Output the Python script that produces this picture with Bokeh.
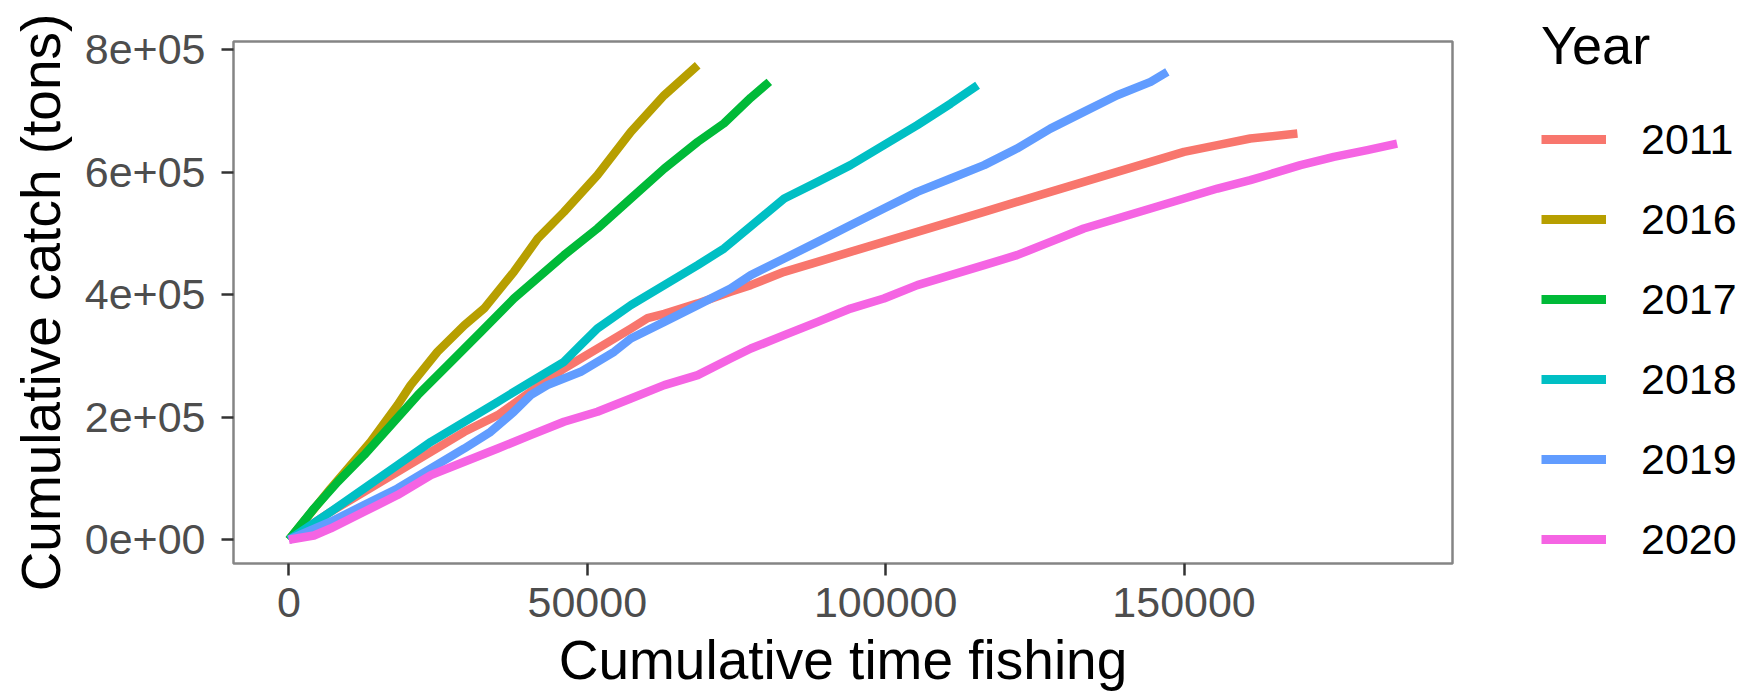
import numpy as np
from bokeh.plotting import figure
from bokeh.layouts import row
from bokeh.models import Range1d, FixedTicker, Legend, LegendItem
from bokeh.embed import file_html
from bokeh.resources import INLINE

# ---------------- data ----------------
years = ["2011", "2016", "2017", "2018", "2019", "2020"]
colors = ["#F8766D", "#B79F00", "#00BA38", "#00BFC4", "#619CFF", "#F564E3"]

x_2011 = [0, 7000, 12600, 18200, 23800, 29400, 35000, 40500, 46100, 51700, 57300, 60100,
          62900, 68500, 74000, 77400, 83000, 88600, 94100, 99700, 105300, 110900, 116500,
          122000, 127600, 133200, 138800, 144400, 150000, 155600, 161100, 169000]
y_2011 = [0, 45700, 78400, 111000, 143700, 176300, 203600, 241600, 279700, 312300, 345000, 362000,
          369000, 386000, 404900, 415900, 437600, 453900, 470200, 486500, 502900, 519200, 535500,
          551900, 568200, 584500, 600800, 617200, 633500, 644400, 655300, 663400]

x_2016 = [0, 7000, 13700, 18200, 20400, 24900, 29400, 32700, 37700, 41700, 46100, 51700,
          57300, 62900, 68500]
y_2016 = [0, 83800, 160000, 219900, 252600, 307000, 350500, 377600, 437600, 491900, 535500, 595400,
          666200, 726000, 775000]

x_2017 = [0, 4200, 8200, 12600, 17100, 21600, 26600, 32200, 37700, 46100, 51700, 57300, 62900,
          68500, 72900, 77400, 80500]
y_2017 = [0, 51100, 94700, 138300, 187300, 236300, 285200, 339600, 394000, 464800, 508300, 557300,
          606200, 649800, 680000, 722000, 747800]

x_2018 = [0, 7000, 12600, 18200, 23800, 29400, 35000, 40500, 46100, 48900, 51700, 57300, 62900,
          68500, 72900, 77400, 83000, 88600, 94100, 99700, 105300, 110900, 115400]
y_2018 = [0, 45700, 83800, 121900, 160000, 192700, 225300, 258000, 290600, 317900, 345000, 383200,
          415900, 448500, 475600, 512000, 557300, 584500, 611800, 644400, 677100, 712400, 742400]

x_2019 = [0, 7000, 12600, 18200, 23800, 29400, 33800, 37700, 40500, 43300, 48900, 54500, 57300,
          62900, 68500, 74000, 77400, 83000, 88600, 94100, 99700, 105300, 110900, 116500, 122000,
          127600, 133200, 138800, 144400, 147200]
y_2019 = [0, 29400, 56600, 83800, 116500, 149100, 176300, 209000, 236200, 252600, 274300, 307000,
          328700, 355900, 383200, 410300, 432200, 459300, 486500, 513800, 541000, 568200, 589900,
          611800, 638900, 671500, 698800, 726000, 747800, 764100]

x_2020 = [0, 4200, 7000, 12600, 18200, 23800, 29400, 35000, 40500, 46100, 51700, 57300, 62900,
          68500, 74000, 77400, 83000, 88600, 94100, 99700, 105300, 110900, 116500, 122000, 127600,
          133200, 138800, 144400, 150000, 155600, 161100, 163900, 169500, 175100, 180700, 185700]
y_2020 = [0, 7000, 18500, 45700, 73000, 105600, 127400, 149100, 170900, 192700, 209000, 230700,
          252600, 268900, 296000, 312300, 334200, 355900, 377600, 394000, 415900, 432200, 448500,
          464800, 486500, 508300, 524600, 541000, 557300, 573600, 587300, 595400, 611800, 625300,
          636300, 647000]

series_x = [x_2011, x_2016, x_2017, x_2018, x_2019, x_2020]
series_y = [y_2011, y_2016, y_2017, y_2018, y_2019, y_2020]

x_ticks = [0, 50000, 100000, 150000]
x_tick_labels = ["0", "50000", "100000", "150000"]
y_ticks = [0, 200000, 400000, 600000, 800000]
y_tick_labels = ["0e+00", "2e+05", "4e+05", "6e+05", "8e+05"]

x_title = "Cumulative time fishing"
y_title = "Cumulative catch (tons)"
legend_title = "Year"

# ---------------- ranges with ggplot-style 5% expansion ----------------
all_x = [v for s in series_x for v in s]
all_y = [v for s in series_y for v in s]
xmin, xmax = min(all_x), max(all_x)
ymin, ymax = min(all_y), max(all_y)
xpad = 0.05 * (xmax - xmin)
ypad = 0.05 * (ymax - ymin)

FONT = "Liberation Sans"
H = 695

p = figure(width=1454, height=H, output_backend="svg", toolbar_location=None,
           x_range=Range1d(xmin - xpad, xmax + xpad),
           y_range=Range1d(ymin - ypad, ymax + ypad),
           min_border_left=233, min_border_right=2, min_border_top=41,
           min_border_bottom=132)

p.xgrid.visible = False
p.ygrid.visible = False
p.background_fill_color = "white"
p.border_fill_color = "white"
p.outline_line_color = "#858585"
p.outline_line_width = 2.5

p.xaxis.ticker = FixedTicker(ticks=x_ticks)
p.xaxis.major_label_overrides = {t: l for t, l in zip(x_ticks, x_tick_labels)}
p.yaxis.ticker = FixedTicker(ticks=y_ticks)
p.yaxis.major_label_overrides = {t: l for t, l in zip(y_ticks, y_tick_labels)}

for ax in (p.xaxis, p.yaxis):
    ax.axis_line_color = None
    ax.major_tick_in = 0
    ax.major_tick_out = 12
    ax.major_tick_line_color = "#333333"
    ax.major_tick_line_width = 2.5
    ax.minor_tick_line_color = None
    ax.major_label_text_font = FONT
    ax.major_label_text_font_size = "43px"
    ax.major_label_text_color = "#4D4D4D"
    ax.axis_label_text_font = FONT
    ax.axis_label_text_font_size = "55px"
    ax.axis_label_text_font_style = "normal"
    ax.axis_label_text_color = "black"

p.xaxis.axis_label = x_title
p.yaxis.axis_label = y_title
p.xaxis.major_label_standoff = 12
p.xaxis.axis_label_standoff = 9
p.yaxis.major_label_standoff = 16
p.yaxis.axis_label_standoff = 10

for yr, col, xs, ys in zip(years, colors, series_x, series_y):
    p.line(xs, ys, line_color=col, line_width=8.5, line_join="round", line_cap="butt")

# ---------------- legend panel ----------------
lg = figure(width=1758 - 1454, height=H, output_backend="svg", toolbar_location=None,
            x_range=Range1d(0, 1), y_range=Range1d(0, 1),
            x_axis_type=None, y_axis_type=None,
            min_border_left=0, min_border_right=0, min_border_top=0, min_border_bottom=0)
lg.xgrid.visible = False
lg.ygrid.visible = False
lg.outline_line_color = None
lg.background_fill_color = "white"
lg.border_fill_color = "white"

# let the legend panel keep its own full-height frame (no frame alignment with the plot)
unaligned = "frame_align" in lg.properties()
if unaligned:
    lg.frame_align = False
    p.frame_align = False
    leg_loc, leg_standoff = (87, 116), 23
else:
    leg_loc, leg_standoff = (87, -16), 15

items = []
for yr, col in zip(years, colors):
    # key-only renderer: a single NaN point draws nothing but gives the legend its swatch
    r = lg.line(x=np.array([np.nan]), y=np.array([np.nan]), line_color=col, line_width=9,
                line_cap="butt")
    items.append(LegendItem(label=yr, renderers=[r]))

legend = Legend(items=items, title=legend_title, location=leg_loc,
                title_text_font=FONT, title_text_font_size="54px", title_text_color="black",
                title_text_font_style="normal", title_standoff=leg_standoff,
                label_text_font=FONT, label_text_font_size="43px", label_text_color="black",
                glyph_width=65, glyph_height=80, label_height=80, spacing=0,
                padding=0, margin=0, label_standoff=35,
                border_line_color=None, background_fill_alpha=0)
lg.add_layout(legend)

layout = row(p, lg, spacing=0)
open("out.html", "w").write(file_html(layout, INLINE))
